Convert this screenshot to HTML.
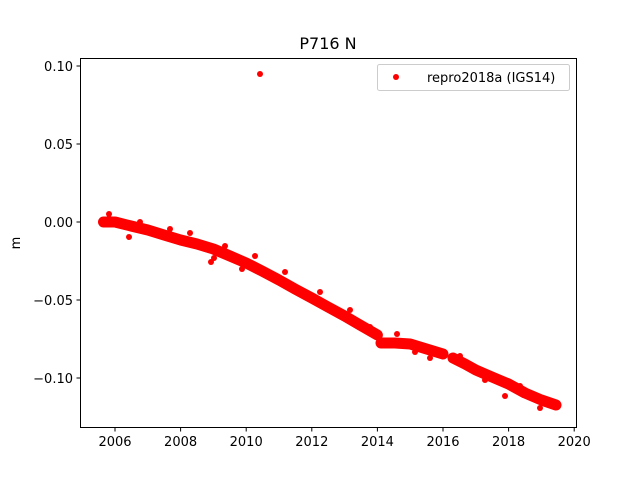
<!DOCTYPE html>
<html><head><meta charset="utf-8"><style>body{margin:0;background:#fff}svg{display:block}text{font-family:"DejaVu Sans","Liberation Sans",sans-serif;font-size:13px;fill:#000}</style></head>
<body>
<svg width="640" height="480" viewBox="0 0 640 480">
<rect width="640" height="480" fill="#fff"/>
<g stroke="#f00" fill="none" stroke-linecap="round" stroke-linejoin="round" stroke-width="11">
<polyline points="103.5,222 115,222 131,226 147.8,230 164,235 180.6,240 197,244 213.4,249 230,256 246.2,263 262,271 279,280 295,289 311.8,298 328,307 344.6,316 360,325 377.4,335"/>
<polyline points="381,343 395,343 410.2,344 426.6,349 443,354"/>
<polyline points="453,358 465,364 475.8,370 492,377 508.6,384 525,393 541.4,400 556,405"/>
</g>
<g fill="#f00">
<circle cx="109" cy="214" r="3"/><circle cx="129" cy="237" r="3"/><circle cx="211" cy="262" r="3"/><circle cx="214" cy="258" r="3"/><circle cx="242" cy="269" r="3"/>
<circle cx="140" cy="222" r="3"/><circle cx="170" cy="229" r="3"/><circle cx="190" cy="233" r="3"/><circle cx="225" cy="246" r="3"/><circle cx="255" cy="256" r="3"/><circle cx="285" cy="272" r="3"/><circle cx="320" cy="292" r="3"/><circle cx="350" cy="310" r="3"/><circle cx="370" cy="327" r="3"/>
<circle cx="397" cy="334" r="3"/><circle cx="415" cy="352" r="3"/><circle cx="430" cy="358" r="3"/><circle cx="460" cy="356" r="3"/><circle cx="485" cy="380" r="3"/><circle cx="505" cy="396" r="3"/><circle cx="520" cy="386" r="3"/><circle cx="540" cy="408" r="3"/>
<circle cx="260" cy="74" r="3"/>
</g>
<rect x="80.5" y="58.5" width="496" height="369" fill="none" stroke="#000" stroke-width="1"/>
<g stroke="#000">
<line x1="80" y1="66" x2="76.5" y2="66"/><line x1="80" y1="144" x2="76.5" y2="144"/><line x1="80" y1="222" x2="76.5" y2="222"/><line x1="80" y1="300" x2="76.5" y2="300"/><line x1="80" y1="378" x2="76.5" y2="378"/>
<line x1="115" y1="428" x2="115" y2="431.5"/><line x1="180.6" y1="428" x2="180.6" y2="431.5"/><line x1="246.2" y1="428" x2="246.2" y2="431.5"/><line x1="311.8" y1="428" x2="311.8" y2="431.5"/><line x1="377.4" y1="428" x2="377.4" y2="431.5"/><line x1="443" y1="428" x2="443" y2="431.5"/><line x1="508.6" y1="428" x2="508.6" y2="431.5"/><line x1="574.2" y1="428" x2="574.2" y2="431.5"/>
</g>
<g text-anchor="end">
<text x="73" y="71">0.10</text><text x="73" y="149">0.05</text><text x="73" y="227">0.00</text><text x="73" y="305">−0.05</text><text x="73" y="383">−0.10</text>
</g>
<g text-anchor="middle">
<text x="115" y="446">2006</text><text x="180.6" y="446">2008</text><text x="246.2" y="446">2010</text><text x="311.8" y="446">2012</text><text x="377.4" y="446">2014</text><text x="443" y="446">2016</text><text x="508.6" y="446">2018</text><text x="574.2" y="446">2020</text>
<text x="328" y="49" style="font-size:16px">P716 N</text>
<text x="20" y="243" transform="rotate(-90 20 243)" style="font-size:13px">m</text>
</g>
<rect x="377.5" y="64.5" width="192" height="26" rx="2" fill="#fff" stroke="#ccc"/>
<circle cx="396" cy="77" r="3" fill="#f00"/>
<text x="427" y="82">repro2018a (IGS14)</text>
</svg>
</body></html>
